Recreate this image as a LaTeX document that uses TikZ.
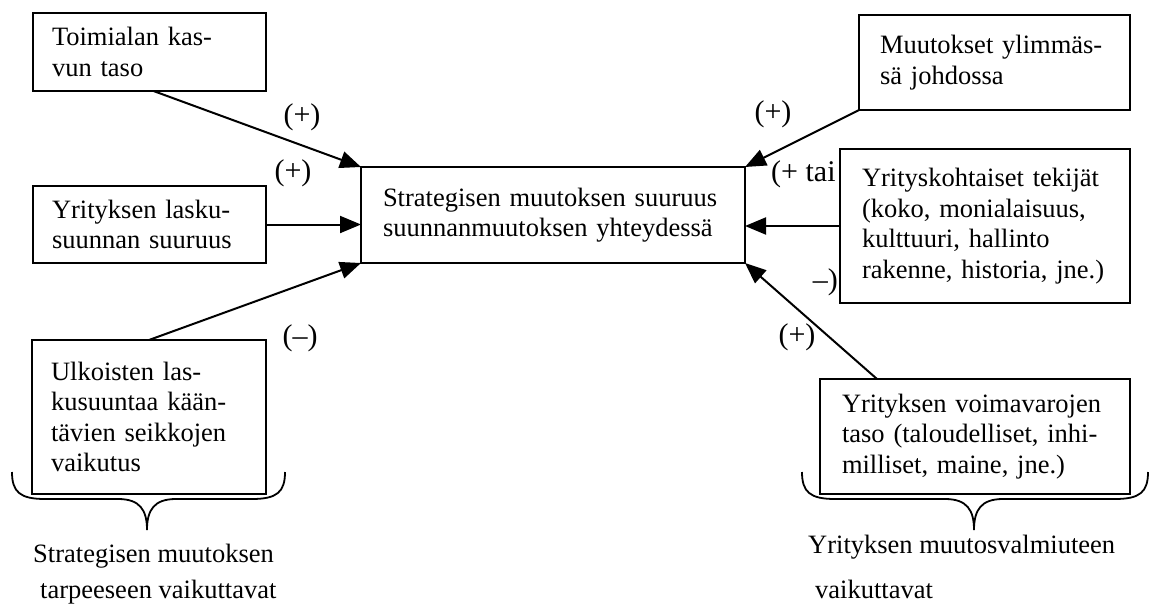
\documentclass[tikz,border=0pt]{standalone}
\usepackage{fontspec}
\setmainfont{Liberation Serif}
\usetikzlibrary{arrows.meta}
\begin{document}
\begin{tikzpicture}[x=1pt,y=-1pt,
  txt/.style={font=\fontsize{26.5}{30.5}\selectfont, inner sep=0pt},
  box/.style={txt, draw, line width=2pt, fill=white, rectangle, align=left,
    inner xsep=20pt, inner ysep=0pt, outer sep=0pt},
  arr/.style={line width=2pt, -{Triangle[length=21pt,width=17pt]}},
  sign/.style={font=\fontsize{30}{34}\selectfont, inner sep=0pt},
  brace/.style={line width=1.8pt}]
\useasboundingbox (0,0) rectangle (1150,605);

% signs hidden partly behind the company-factor box
\node[sign, anchor=west] (lt) at (771,174) {(+ tai};
\node[sign, anchor=east] (lm) at (838,282) {–)};

% central box
\node[box, minimum width=384pt, minimum height=96pt, text width=340pt,
  inner xsep=22pt] (c) at (553,215)
  {Strategisen muutoksen suuruus\\suunnanmuutoksen yhteydessä};

% left-hand factors
\node[box, minimum width=233pt, minimum height=78pt, text width=195pt,
  inner xsep=19pt] (t1) at (149.5,52) {Toimialan kas-\\vun taso};
\node[box, minimum width=233pt, minimum height=77pt, text width=195pt,
  inner xsep=19pt] (t2) at (149.5,224.5) {Yrityksen lasku-\\suunnan suuruus};
\node[box, minimum width=234pt, minimum height=154pt, text width=196pt,
  inner xsep=19pt] (t3) at (149,417)
  {Ulkoisten las-\\kusuuntaa kään-\\tävien seikkojen\\vaikutus};

% right-hand factors
\node[box, minimum width=271pt, minimum height=95pt, text width=229pt,
  inner xsep=21pt] (m1) at (994.5,62.5) {Muutokset ylimmäs-\\sä johdossa};
\node[box, minimum width=290pt, minimum height=154pt, text width=246pt,
  inner xsep=22pt] (m2) at (985,226)
  {Yrityskohtaiset tekijät\\(koko, monialaisuus,\\kulttuuri, hallinto\\rakenne, historia, jne.)};
\node[box, minimum width=310pt, minimum height=115pt, text width=266pt,
  inner xsep=22pt] (m3) at (975,436.5)
  {Yrityksen voimavarojen\\taso (taloudelliset, inhi-\\milliset, maine, jne.)};

% influences
\draw[arr] ([xshift=4pt]t1.south) -- (c.north west);
\draw[arr] (t2.east) -- (c.west |- t2.east);
\draw[arr] (t3.north) -- (c.south west);
\draw[arr] (m1.south west) -- (c.north east);
\draw[arr] (m2.west) -- (c.east |- m2.west);
\draw[arr] ([xshift=57pt]m3.north west) -- (c.south east);

% signs of the influences
\node[sign] (s1) at (302,117) {(+)};
\node[sign] (s2) at (293,173) {(+)};
\node[sign] (s3) at (300,338) {(–)};
\node[sign] (s4) at (773,114) {(+)};
\node[sign] (s5) at (797,337) {(+)};

% grouping braces
\draw[brace] (12,472) .. controls (12,492) and (20,499) .. (45,499)
  -- (118,499) .. controls (140,499) and (147,510) .. (147,530)
  .. controls (147,510) and (154,499) .. (176,499)
  -- (252,499) .. controls (277,499) and (285,492) .. (285,472);
\draw[brace] (802,472) .. controls (802,492) and (810,499) .. (835,499)
  -- (945,499) .. controls (967,499) and (974,510) .. (974,530)
  .. controls (974,510) and (981,499) .. (1003,499)
  -- (1115,499) .. controls (1140,499) and (1148,492) .. (1148,472);

% group captions
\node[txt, anchor=base west] (g1) at (33,562) {Strategisen muutoksen};
\node[txt, anchor=base west] (g2) at (40,598) {tarpeeseen vaikuttavat};
\node[txt, anchor=base west] (g3) at (808,553) {Yrityksen muutosvalmiuteen};
\node[txt, anchor=base west] (g4) at (815,598) {vaikuttavat};
\end{tikzpicture}
\end{document}
